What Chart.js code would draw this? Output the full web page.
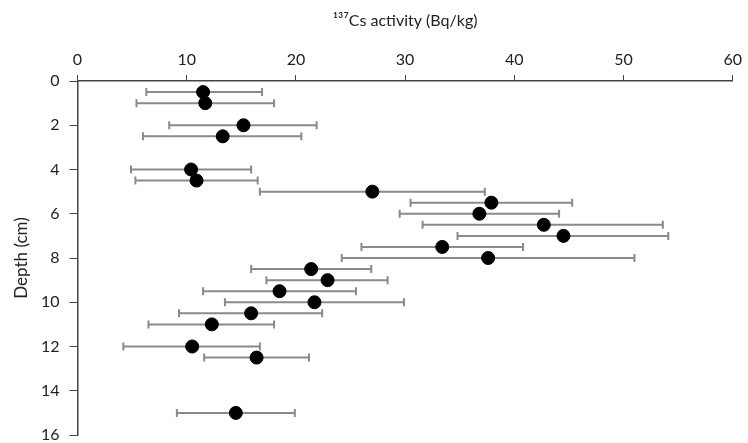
<!DOCTYPE html>
<html>
<head>
<meta charset="utf-8">
<script src="https://cdn.jsdelivr.net/npm/chart.js@4"></script>
<style>
  html, body { margin: 0; padding: 0; background: #fff; }
  #wrap { width: 748px; height: 443px; position: relative; }
</style>
</head>
<body>
<div id="wrap"><canvas id="c" width="748" height="443"></canvas></div>
<script>
// Depth (cm) of each sample
const depth = [0.5, 1, 2, 2.5, 4, 4.5, 5, 5.5, 6, 6.5, 7, 7.5, 8, 8.5, 9, 9.5, 10, 10.5, 11, 12, 12.5, 15];
// 137Cs activity (Bq/kg)
const activity = [11.5, 11.7, 15.2, 13.3, 10.4, 10.9, 27.0, 37.9, 36.8, 42.7, 44.5, 33.4, 37.6, 21.4, 22.9, 18.5, 21.7, 15.9, 12.3, 10.5, 16.4, 14.5];
// Lower / upper ends of the error bars
const errLow = [6.3, 5.4, 8.4, 6.0, 4.9, 5.3, 16.7, 30.5, 29.5, 31.6, 34.8, 26.0, 24.2, 15.9, 17.3, 11.5, 13.5, 9.3, 6.5, 4.2, 11.6, 9.1];
const errHigh = [16.9, 18.0, 21.9, 20.5, 15.9, 16.5, 37.3, 45.3, 44.1, 53.6, 54.1, 40.8, 51.0, 26.9, 28.4, 25.5, 29.9, 22.4, 18.0, 16.7, 21.2, 19.9];
// Axis ticks
const xTicks = [0, 10, 20, 30, 40, 50, 60];
const yTicks = [0, 2, 4, 6, 8, 10, 12, 14, 16];
const xTitle = '¹³⁷Cs activity (Bq/kg)';
const yTitle = 'Depth (cm)';

const points = depth.map((d, i) => ({ x: activity[i], y: d }));

const errorBars = {
  id: 'errorBars',
  beforeDatasetsDraw(chart) {
    const ctx = chart.ctx;
    const xs = chart.scales.x, ys = chart.scales.y;
    ctx.save();
    ctx.strokeStyle = '#8a8a8a';
    ctx.lineWidth = 2;
    const cap = 4;
    depth.forEach((d, i) => {
      const y = ys.getPixelForValue(d);
      const x1 = xs.getPixelForValue(errLow[i]);
      const x2 = xs.getPixelForValue(errHigh[i]);
      ctx.beginPath();
      ctx.moveTo(x1, y); ctx.lineTo(x2, y);
      ctx.moveTo(x1, y - cap); ctx.lineTo(x1, y + cap);
      ctx.moveTo(x2, y - cap); ctx.lineTo(x2, y + cap);
      ctx.stroke();
    });
    ctx.restore();
  }
};

const fam = 'Lato, "Open Sans", sans-serif';
const tickFont = { family: fam, size: 16 };

new Chart(document.getElementById('c'), {
  type: 'scatter',
  data: {
    datasets: [{
      data: points,
      backgroundColor: '#000',
      borderColor: '#000',
      pointRadius: 6.5,
      pointHoverRadius: 6.5
    }]
  },
  options: {
    responsive: false,
    animation: false,
    devicePixelRatio: 1,
    layout: { padding: { left: 0, right: 13, top: 0, bottom: 0 } },
    plugins: { legend: { display: false }, tooltip: { enabled: false } },
    scales: {
      x: {
        type: 'linear',
        position: 'top',
        min: 0, max: 60,
        afterBuildTicks(s) { s.ticks = xTicks.map(v => ({ value: v })); },
        afterFit(s) { s.height = 81; },
        ticks: { color: '#222', font: tickFont, padding: 6, maxRotation: 0 },
        grid: { drawOnChartArea: false, drawTicks: true, tickLength: 6, color: '#444', lineWidth: 1 },
        border: { display: true, color: '#444', width: 1.5 },
        title: { display: true, text: xTitle, color: '#222', font: { family: fam, size: 16 }, padding: { top: 11, bottom: 0 } }
      },
      y: {
        type: 'linear',
        reverse: true,
        min: 0, max: 16,
        afterBuildTicks(s) { s.ticks = yTicks.map(v => ({ value: v })); },
        afterFit(s) { s.width = 77.5; s.paddingTop = 0; s.paddingBottom = 8; },
        ticks: { color: '#222', font: tickFont, padding: 10 },
        grid: { drawOnChartArea: false, drawTicks: true, tickLength: 8, color: '#444', lineWidth: 1 },
        border: { display: true, color: '#444', width: 1.5 },
        title: { display: true, text: yTitle, color: '#222', font: { family: fam, size: 17 }, padding: { top: 11, bottom: 0 } }
      }
    }
  },
  plugins: [errorBars]
});
</script>
</body>
</html>
